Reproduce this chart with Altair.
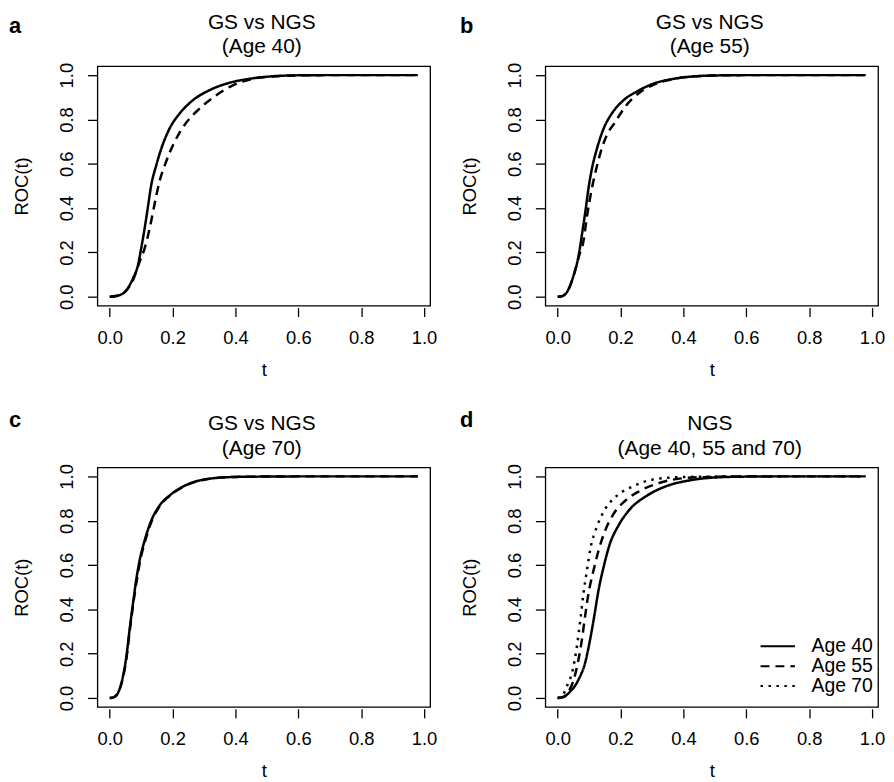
import altair as alt
import pandas as pd

FONT = "Liberation Sans"

# ---------------- data ----------------
# Panel a (Age 40): solid = NGS, dashed = GS
a_ngs_t = [0, 0.02, 0.047, 0.074, 0.090, 0.100, 0.111, 0.121, 0.132, 0.148, 0.164, 0.190, 0.222, 0.264, 0.316, 0.380, 0.443, 0.52, 0.60, 0.70, 0.80, 0.90, 0.98]
a_ngs_roc = [0, 0.003, 0.020, 0.083, 0.143, 0.218, 0.308, 0.400, 0.503, 0.593, 0.668, 0.758, 0.826, 0.886, 0.931, 0.965, 0.983, 0.995, 0.999, 1, 1, 1, 1]
a_gs_t = [0, 0.02, 0.047, 0.074, 0.095, 0.111, 0.127, 0.142, 0.158, 0.179, 0.206, 0.237, 0.285, 0.338, 0.390, 0.453, 0.52, 0.60, 0.70, 0.80, 0.90, 0.98]
a_gs_roc = [0, 0.003, 0.020, 0.075, 0.158, 0.218, 0.308, 0.413, 0.518, 0.608, 0.698, 0.773, 0.848, 0.908, 0.953, 0.983, 0.994, 0.999, 1, 1, 1, 1]

# Panel b (Age 55)
b_ngs_t = [0, 0.015, 0.029, 0.051, 0.067, 0.077, 0.088, 0.098, 0.109, 0.125, 0.146, 0.172, 0.209, 0.252, 0.304, 0.368, 0.44, 0.52, 0.60, 0.70, 0.80, 0.90, 0.98]
b_ngs_roc = [0, 0.003, 0.020, 0.098, 0.188, 0.278, 0.383, 0.488, 0.578, 0.668, 0.758, 0.826, 0.886, 0.926, 0.961, 0.983, 0.995, 0.999, 1, 1, 1, 1, 1]
b_gs_t = [0, 0.015, 0.029, 0.051, 0.067, 0.082, 0.093, 0.109, 0.125, 0.140, 0.156, 0.183, 0.214, 0.262, 0.304, 0.368, 0.44, 0.52, 0.60, 0.70, 0.80, 0.90, 0.98]
b_gs_roc = [0, 0.003, 0.020, 0.095, 0.180, 0.250, 0.360, 0.490, 0.590, 0.668, 0.728, 0.788, 0.856, 0.923, 0.956, 0.982, 0.995, 0.999, 1, 1, 1, 1, 1]

# Panel c (Age 70)
c_ngs_t = [0, 0.012, 0.026, 0.042, 0.053, 0.063, 0.074, 0.084, 0.095, 0.111, 0.132, 0.158, 0.195, 0.243, 0.306, 0.39, 0.48, 0.60, 0.70, 0.80, 0.90, 0.98]
c_ngs_roc = [0, 0.003, 0.022, 0.097, 0.187, 0.306, 0.426, 0.530, 0.620, 0.710, 0.800, 0.867, 0.919, 0.961, 0.987, 0.997, 0.999, 1, 1, 1, 1, 1]
c_gs_t = [0, 0.012, 0.026, 0.043, 0.054, 0.064, 0.075, 0.086, 0.097, 0.113, 0.134, 0.160, 0.197, 0.245, 0.308, 0.39, 0.48, 0.60, 0.70, 0.80, 0.90, 0.98]
c_gs_roc = [0, 0.003, 0.022, 0.097, 0.187, 0.306, 0.426, 0.530, 0.620, 0.710, 0.800, 0.867, 0.919, 0.961, 0.987, 0.997, 0.999, 1, 1, 1, 1, 1]

# Panel d (NGS, Age 40 / 55 / 70)
d40_t = [0, 0.02, 0.035, 0.066, 0.087, 0.103, 0.116, 0.130, 0.146, 0.166, 0.193, 0.230, 0.283, 0.346, 0.420, 0.50, 0.60, 0.70, 0.80, 0.90, 0.98]
d40_roc = [0, 0.005, 0.022, 0.082, 0.157, 0.262, 0.366, 0.486, 0.590, 0.695, 0.777, 0.852, 0.912, 0.956, 0.982, 0.995, 0.999, 1, 1, 1, 1]
d55_t = [0, 0.02, 0.035, 0.051, 0.066, 0.077, 0.087, 0.098, 0.114, 0.130, 0.151, 0.177, 0.214, 0.261, 0.325, 0.41, 0.50, 0.60, 0.70, 0.80, 0.90, 0.98]
d55_roc = [0, 0.006, 0.030, 0.082, 0.172, 0.262, 0.366, 0.471, 0.575, 0.665, 0.755, 0.829, 0.889, 0.934, 0.971, 0.993, 0.998, 1, 1, 1, 1, 1]
d70_t = [0, 0.015, 0.029, 0.048, 0.061, 0.072, 0.082, 0.093, 0.105, 0.124, 0.151, 0.188, 0.241, 0.304, 0.40, 0.50, 0.60, 0.70, 0.80, 0.90, 0.98]
d70_roc = [0, 0.010, 0.052, 0.127, 0.231, 0.351, 0.471, 0.575, 0.680, 0.770, 0.852, 0.912, 0.956, 0.986, 0.997, 0.999, 1, 1, 1, 1, 1]

panel_letters = ["a", "b", "c", "d"]
panel_titles = [
    ["GS vs NGS", "(Age 40)"],
    ["GS vs NGS", "(Age 55)"],
    ["GS vs NGS", "(Age 70)"],
    ["NGS", "(Age 40, 55 and 70)"],
]
legend_labels = ["Age 40", "Age 55", "Age 70"]
tick_values = [0.0, 0.2, 0.4, 0.6, 0.8, 1.0]

# ---------------- helpers ----------------
W, H = 335, 241
X_DOM = [-0.0392, 1.0192]
Y_DOM = [-0.04, 1.04]
SOLID = [1, 0]
DASH = [9, 6]
DOT = [2.5, 5.5]


def curves(*parts):
    frames = []
    for t, roc, name in parts:
        frames.append(pd.DataFrame({"t": t, "roc": roc, "series": name, "k": range(len(t))}))
    return pd.concat(frames, ignore_index=True)


def panel(df, dash_domain, dash_range, letter, title_lines, letter_dx, letter_dy, legend=None):
    x = alt.X(
        "t:Q",
        scale=alt.Scale(domain=X_DOM, nice=False, zero=False),
        axis=alt.Axis(
            values=tick_values, format=".1f", grid=False, domain=False,
            tickSize=9, tickWidth=1.3, tickColor="black", offset=2,
            labelFont=FONT, labelFontSize=18.5, labelColor="black",
            labelBaseline="alphabetic", labelPadding=27, labelAngle=0,
            labelFlush=False, labelOverlap=False,
            title="t", titleFont=FONT, titleFontSize=18.5, titleFontWeight="normal",
            titleColor="black", titleX=W / 2, titleY=68,
            titleBaseline="alphabetic", titleAlign="center",
        ),
    )
    y = alt.Y(
        "roc:Q",
        scale=alt.Scale(domain=Y_DOM, nice=False, zero=False),
        axis=alt.Axis(
            values=tick_values, format=".1f", grid=False, domain=False,
            tickSize=10, tickWidth=1.3, tickColor="black",
            labelFont=FONT, labelFontSize=18.5, labelColor="black",
            labelAngle=270, labelAlign="center", labelBaseline="alphabetic",
            labelPadding=15, labelFlush=False, labelOverlap=False,
            title="ROC(t)", titleFont=FONT, titleFontSize=18.5, titleFontWeight="normal",
            titleColor="black", titleAngle=270, titleX=-70, titleY=H / 2,
            titleBaseline="alphabetic", titleAlign="center",
        ),
    )
    dash = alt.StrokeDash(
        "series:N",
        scale=alt.Scale(domain=dash_domain, range=dash_range),
        legend=legend,
    )
    lines = alt.Chart(df).mark_line(
        color="black", strokeWidth=2.5, interpolate="monotone"
    ).encode(x=x, y=y, strokeDash=dash, order="k:Q")

    one = pd.DataFrame({"i": [0]})
    title = alt.Chart(one).mark_text(
        text=title_lines, font=FONT, fontSize=21, lineHeight=25,
        align="center", baseline="alphabetic", color="black",
    ).encode(x=alt.value(W / 2 - 2), y=alt.value(-38))
    lab = alt.Chart(one).mark_text(
        text=letter, font=FONT, fontSize=22, fontWeight="bold",
        align="left", baseline="alphabetic", color="black",
    ).encode(x=alt.value(letter_dx), y=alt.value(letter_dy))

    return alt.layer(lines, title, lab).properties(width=W, height=H)


pa = panel(
    curves((a_ngs_t, a_ngs_roc, "NGS"), (a_gs_t, a_gs_roc, "GS")),
    ["NGS", "GS"], [SOLID, DASH], panel_letters[0], panel_titles[0], -89, -33,
)
pb = panel(
    curves((b_ngs_t, b_ngs_roc, "NGS"), (b_gs_t, b_gs_roc, "GS")),
    ["NGS", "GS"], [SOLID, DASH], panel_letters[1], panel_titles[1], -86, -33,
)
pc = panel(
    curves((c_ngs_t, c_ngs_roc, "NGS"), (c_gs_t, c_gs_roc, "GS")),
    ["NGS", "GS"], [SOLID, DASH], panel_letters[2], panel_titles[2], -89, -41,
)
legend_d = alt.Legend(
    title=None, orient="none", legendX=224, legendY=170, padding=0,
    symbolType="M-2,0H2", symbolSize=300, symbolStrokeWidth=2,
    symbolStrokeColor="black", symbolFillColor="transparent",
    labelFont=FONT, labelFontSize=19.5,
    labelColor="black", labelOffset=24, rowPadding=0,
)
pd_ = panel(
    curves((d40_t, d40_roc, legend_labels[0]), (d55_t, d55_roc, legend_labels[1]), (d70_t, d70_roc, legend_labels[2])),
    legend_labels, [SOLID, DASH, DOT], panel_letters[3], panel_titles[3], -86, -41, legend=legend_d,
)

top = alt.hconcat(pa, pb, spacing=21).resolve_scale(strokeDash="independent").resolve_legend(strokeDash="independent")
bottom = alt.hconcat(pc, pd_, spacing=21).resolve_scale(strokeDash="independent").resolve_legend(strokeDash="independent")

chart = (
    alt.vconcat(top, bottom, spacing=28)
    .resolve_scale(strokeDash="independent")
    .resolve_legend(strokeDash="independent")
    .properties(padding=0)
    .configure_view(stroke="black", strokeWidth=1.3)
)

chart.save("out.html", embed_options={"renderer": "svg", "actions": False})
